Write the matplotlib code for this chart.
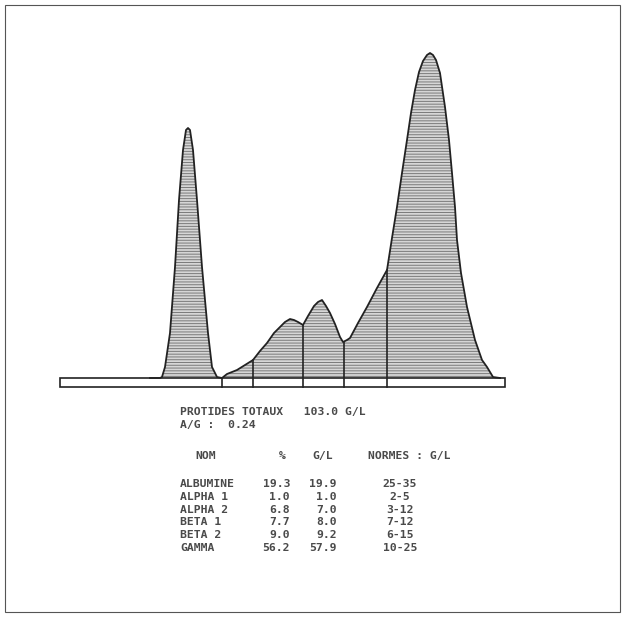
import numpy as np
import matplotlib.pyplot as plt
from matplotlib.patches import Rectangle

# densitometry trace (x = migration, y = height above baseline)
migration = [150, 160, 162, 165, 170, 175, 179, 183, 186, 188, 190, 193, 197, 202, 208, 212, 217,
             222, 227, 232, 237, 245, 253, 260, 267, 274, 280, 285, 290, 294, 298, 303,
             308, 314, 318, 322, 326, 330, 335, 340, 343, 347, 350, 358, 367, 377, 387,
             392, 397, 402, 407, 411, 415, 419, 423, 427, 430, 433, 436, 440, 445, 449, 452,
             455, 457, 461, 467, 475, 482, 487, 493, 500]
density = [0, 0, 1, 11, 45, 111, 178, 228, 248, 250, 248, 228, 178, 111, 45, 11, 1,
           0, 4, 6, 8, 13, 18, 27, 35, 45, 51, 56, 59, 58, 56, 53,
           62, 72, 76, 78, 72, 65, 54, 41, 36, 38, 40, 55, 71, 90, 108,
           140, 171, 205, 238, 265, 288, 306, 317, 323, 325, 323, 318, 305, 271, 238, 205,
           171, 138, 105, 71, 38, 18, 11, 1, 0]

fractions = ['ALBUMINE', 'ALPHA 1', 'ALPHA 2', 'BETA 1', 'BETA 2', 'GAMMA']
percent = ['19.3', '1.0', '6.8', '7.7', '9.0', '56.2']
grams = ['19.9', '1.0', '7.0', '8.0', '9.2', '57.9']
normes = ['25-35', '2-5', '3-12', '7-12', '6-15', '10-25']
dividers = [222, 253, 303, 344, 387]

plt.rcParams['hatch.linewidth'] = 0.7
fig = plt.figure(figsize=(6.25, 6.17), dpi=100)
ax = fig.add_axes([0, 0, 1, 1])
ax.set_xlim(0, 625)
ax.set_ylim(378 - 617, 378)
ax.axis('off')

# outer frame
fig.patches.append(Rectangle((5 / 625, 5 / 617), 615 / 625, 607 / 617, transform=fig.transFigure,
                             fill=False, edgecolor='#555555', linewidth=0.8))

ax.fill_between(migration, density, 0, facecolor='#d6d6d6', edgecolor='#7a7a7a',
                hatch='------', linewidth=0)
ax.plot(migration, density, color='#222222', linewidth=1.3)

for d in dividers:
    ax.plot([d, d], [-9, np.interp(d, migration, density)], color='#222222', linewidth=1.2)

# baseline strip
ax.add_patch(Rectangle((60, -9), 445, 9, fill=False, edgecolor='#222222', linewidth=1.2))

mono = dict(family='DejaVu Sans Mono', fontsize=8.2, fontweight='bold', color='#4a4a4a',
            va='center')
ax.text(180, 378 - 412, 'PROTIDES TOTAUX   103.0 G/L', ha='left', **mono)
ax.text(180, 378 - 425, 'A/G :  0.24', ha='left', **mono)
ax.text(195, 378 - 456, 'NOM', ha='left', **mono)
ax.text(286, 378 - 456, '%', ha='right', **mono)
ax.text(312, 378 - 456, 'G/L', ha='left', **mono)
ax.text(368, 378 - 456, 'NORMES : G/L', ha='left', **mono)

for i, name in enumerate(fractions):
    y = 378 - (484 + 12.8 * i)
    ax.text(180, y, name, ha='left', **mono)
    ax.text(290, y, percent[i], ha='right', **mono)
    ax.text(337, y, grams[i], ha='right', **mono)
    ax.text(400, y, normes[i], ha='center', **mono)

fig.savefig('out.png', dpi=100)
